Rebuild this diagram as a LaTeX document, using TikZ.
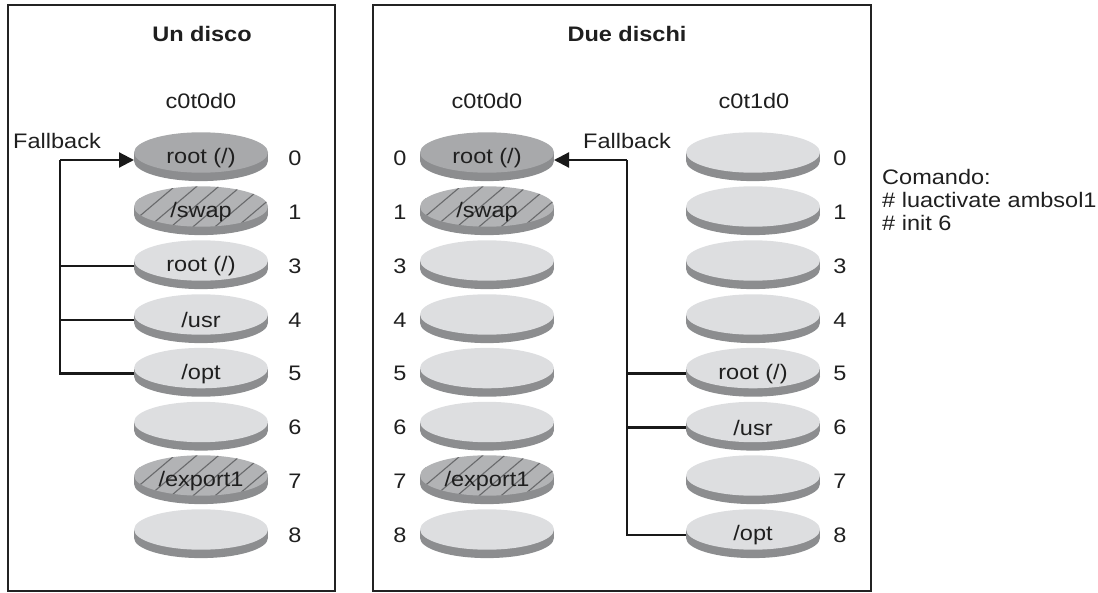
\documentclass[tikz,border=0pt]{standalone}
\usepackage{fontspec}
\setmainfont{Liberation Sans}[FakeStretch=1.12]
\usetikzlibrary{arrows.meta}

\definecolor{sidegray}{RGB}{140,141,143}
\definecolor{lighttop}{RGB}{221,222,224}
\definecolor{darktop}{RGB}{168,169,171}
\definecolor{hatchtop}{RGB}{178,179,181}
\definecolor{hatchink}{RGB}{105,106,108}
\definecolor{frameink}{RGB}{35,35,35}

% disk geometry: half width, top-face half height, rim thickness
\newcommand\diskrx{67}
\newcommand\diskry{20.2}
\newcommand\diskt{8.4}

% #1 name, #2 centre x, #3 label y, #4 top colour, #5 extra top decoration, #6 text
\newcommand\mydisk[6]{%
  \pgfmathsetmacro\dcx{#2}%
  \pgfmathsetmacro\dyc{#3-5.5}%
  \fill[sidegray] (\dcx-\diskrx,\dyc) rectangle (\dcx+\diskrx,\dyc+\diskt);
  \fill[sidegray] (\dcx,\dyc+\diskt) ellipse [x radius=\diskrx, y radius=\diskry];
  \fill[#4] (\dcx,\dyc) ellipse [x radius=\diskrx, y radius=\diskry];
  #5%
  \node[disklabel] (#1) at (\dcx,#3) {#6};
  \coordinate (#1w) at (\dcx-\diskrx,#3);
  \coordinate (#1e) at (\dcx+\diskrx,#3);
}

% diagonal hatching clipped to the top face
\newcommand\hatchface{%
  \begin{scope}
    \clip (\dcx,\dyc) ellipse [x radius=\diskrx, y radius=\diskry];
    \foreach \k in {-6,...,5}
      \draw[hatchink, line width=1.1pt] (\dcx+\k*22-10,\dyc+22) -- ++(52,-44);
  \end{scope}%
}

\tikzset{
  panel/.style={draw=frameink, line width=2.5pt},
  title/.style={font=\fontsize{21}{25}\selectfont\bfseries, text=black!88, inner sep=0pt},
  disklabel/.style={font=\fontsize{21}{25}\selectfont, text=black!88, inner sep=0pt},
  plain/.style={font=\fontsize{21}{25}\selectfont, text=black!88, inner sep=0pt},
  conn/.style={draw=black!90, line width=2.2pt},
  tip/.style={-{Triangle[length=15pt,width=15pt]}}
}

\begin{document}
\begin{tikzpicture}[x=1pt,y=-1pt]
\useasboundingbox (0,0) rectangle (1098,593);

% frames
\draw[panel] (8,5) rectangle (335,591);
\draw[panel] (373,5) rectangle (871,591);

% titles and disk names
\node[title] (t1) at (202,34) {Un disco};
\node[title] (t2) at (627,34) {Due dischi};
\node[plain] (h1) at (201,101) {c0t0d0};
\node[plain] (h2) at (487,101) {c0t0d0};
\node[plain] (h3) at (754,101) {c0t1d0};

% ---- one disk ----
\mydisk{a0}{201}{158}{darktop}{}{root (/)}
\mydisk{a1}{201}{212}{hatchtop}{\hatchface}{/swap}
\mydisk{a2}{201}{266}{lighttop}{}{root (/)}
\mydisk{a3}{201}{320}{lighttop}{}{/usr}
\mydisk{a4}{201}{373.6}{lighttop}{}{/opt}
\mydisk{a5}{201}{427.5}{lighttop}{}{}
\mydisk{a6}{201}{481}{hatchtop}{\hatchface}{/export1}
\mydisk{a7}{201}{535}{lighttop}{}{}

% ---- two disks: c0t0d0 ----
\mydisk{b0}{487}{158}{darktop}{}{root (/)}
\mydisk{b1}{487}{212}{hatchtop}{\hatchface}{/swap}
\mydisk{b2}{487}{266}{lighttop}{}{}
\mydisk{b3}{487}{320}{lighttop}{}{}
\mydisk{b4}{487}{373.6}{lighttop}{}{}
\mydisk{b5}{487}{427.5}{lighttop}{}{}
\mydisk{b6}{487}{481}{hatchtop}{\hatchface}{/export1}
\mydisk{b7}{487}{535}{lighttop}{}{}

% ---- two disks: c0t1d0 ----
\mydisk{c0}{753}{158}{lighttop}{}{}
\mydisk{c1}{753}{212}{lighttop}{}{}
\mydisk{c2}{753}{266}{lighttop}{}{}
\mydisk{c3}{753}{320}{lighttop}{}{}
\mydisk{c4}{753}{373.6}{lighttop}{}{root (/)}
\mydisk{c5}{753}{427.5}{lighttop}{}{/usr}
\mydisk{c6}{753}{481}{lighttop}{}{}
\mydisk{c7}{753}{535}{lighttop}{}{/opt}

% slice numbers
\foreach \n/\s/\y in {0/0/158,1/1/212,2/3/266,3/4/320,4/5/373.6,5/6/427.5,6/7/481,7/8/535}{
  \node[plain] (na\n) at (295,\y) {\s};
  \node[plain] (nb\n) at (400,\y) {\s};
  \node[plain] (nc\n) at (840,\y) {\s};
}

% fallback connectors
\coordinate (ja) at (60,160);
\coordinate (jb) at (627,160);
\node[plain] (fa) at (57,141) {Fallback};
\node[plain] (fb) at (627,141) {Fallback};

\draw[conn] (a4w) -| (ja);
\draw[conn, tip] (ja) -- (a0w |- ja);
\draw[conn] (a2w) -- (a2w -| ja);
\draw[conn] (a3w) -- (a3w -| ja);

\draw[conn] (c7w) -| (jb);
\draw[conn, tip] (jb) -- (b0e |- jb);
\draw[conn] (c4w) -- (c4w -| jb);
\draw[conn] (c5w) -- (c5w -| jb);

% command text
\node[plain, anchor=north west, align=left] (cmd) at (882,169)
  {Comando:\\[-2pt]\# luactivate ambsol1\\[-2pt]\# init 6};
\end{tikzpicture}
\end{document}
